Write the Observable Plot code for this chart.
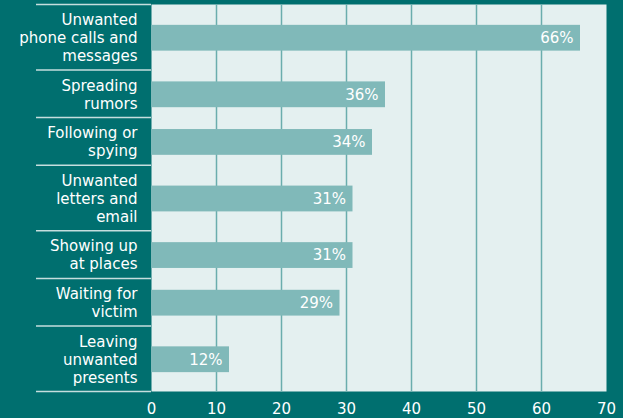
<!DOCTYPE html>
<html><head><meta charset="utf-8">
<script src="https://cdn.jsdelivr.net/npm/d3@7"></script>
<script src="https://cdn.jsdelivr.net/npm/@observablehq/plot@0.6"></script>
<style>html,body{margin:0;padding:0;background:#006f6f;} svg{display:block}</style>
</head><body><div id="chart"></div>
<script>
const categories = [
  "Unwanted\nphone calls and\nmessages",
  "Spreading\nrumors",
  "Following or\nspying",
  "Unwanted\nletters and\nemail",
  "Showing up\nat places",
  "Waiting for\nvictim",
  "Leaving\nunwanted\npresents"
];
const values = [66, 36, 34, 31, 31, 29, 12];
const tickValues = [0, 10, 20, 30, 40, 50, 60, 70];

// row heights follow the number of label lines
const LINE = 18, PAD = 12, BAR = 26;
let acc = 0;
const rows = categories.map((c, i) => {
  const h = c.split("\n").length * LINE + PAD;
  const r = {label: c, value: values[i], y0: acc, y1: acc + h, yc: acc + h / 2};
  acc += h;
  return r;
});
const bounds = [0, ...rows.map(r => r.y1)];

const chart = Plot.plot({
  width: 623, height: 418,
  marginLeft: 151, marginRight: 17, marginTop: 4, marginBottom: 27,
  style: {background: "#006f6f", fontFamily: "DejaVu Sans", fontSize: "15px", color: "white", overflow: "visible"},
  x: {domain: [0, 70]},
  y: {domain: [0, acc], reverse: true},
  marks: [
    Plot.frame({fill: "#e4f0f0", stroke: "none"}),
    Plot.gridX(tickValues.slice(1, -1), {stroke: "#6aadad", strokeOpacity: 1, strokeWidth: 1.5}),
    Plot.rectX(rows, {x1: 0, x2: "value", y1: r => r.yc + 1 - BAR / 2, y2: r => r.yc + 1 + BAR / 2, fill: "#80b9b9"}),
    Plot.text(rows, {x: "value", y: r => r.yc + 1, text: r => r.value + "%", textAnchor: "end", dx: -7, fill: "white", fontSize: 15}),
    Plot.text(rows, {x: 0, y: "yc", text: "label", textAnchor: "end", dx: -14, fill: "white", lineHeight: 1.2, fontSize: 15}),
    Plot.axisY(bounds, {anchor: "left", tickSize: 115, tickFormat: () => "", stroke: "#c5dede", strokeWidth: 1.5, label: null}),
    Plot.axisX(tickValues, {anchor: "bottom", tickSize: 0, tickPadding: 12, fill: "white", fontSize: 15, label: null})
  ]
});
document.getElementById("chart").appendChild(chart);
</script>
</body></html>
